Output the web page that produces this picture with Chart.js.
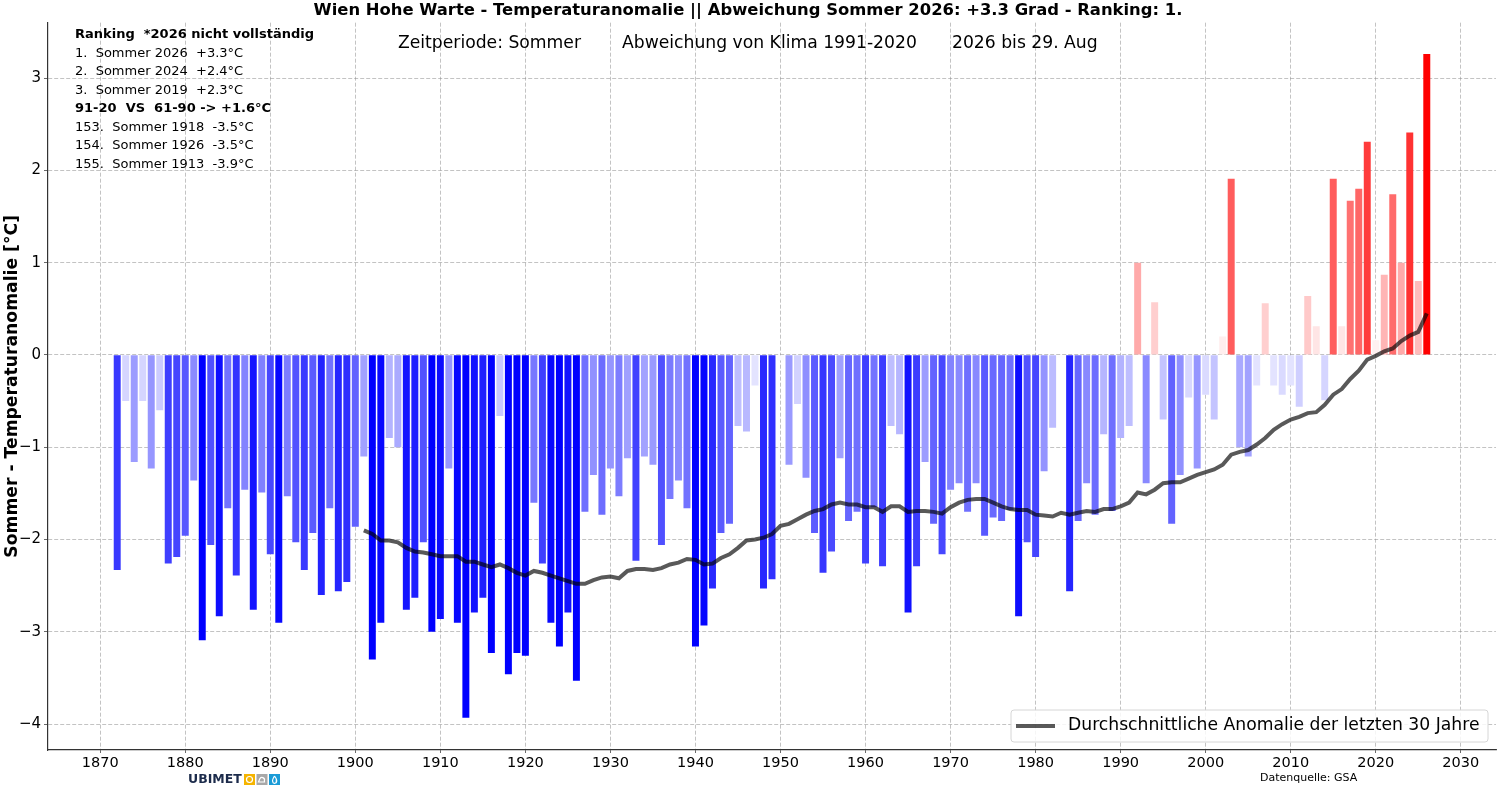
<!DOCTYPE html>
<html>
<head>
<meta charset="utf-8">
<title>Wien Hohe Warte - Temperaturanomalie Sommer</title>
<script src="https://cdn.jsdelivr.net/npm/chart.js@4.4.1/dist/chart.umd.min.js"></script>
<style>
  html, body { margin: 0; padding: 0; background: #fff; }
  #wrap { width: 1500px; height: 790px; position: relative; }
</style>
</head>
<body>
<div id="wrap"><canvas id="anomChart"></canvas></div>
<script>
// -----------------------------------------------------------------------------
// Data
// -----------------------------------------------------------------------------
const years = [
  1872, 1873, 1874, 1875, 1876, 1877, 1878, 1879, 1880, 1881, 1882, 1883, 1884, 1885, 1886, 1887, 1888, 1889, 1890, 1891,
  1892, 1893, 1894, 1895, 1896, 1897, 1898, 1899, 1900, 1901, 1902, 1903, 1904, 1905, 1906, 1907, 1908, 1909, 1910, 1911,
  1912, 1913, 1914, 1915, 1916, 1917, 1918, 1919, 1920, 1921, 1922, 1923, 1924, 1925, 1926, 1927, 1928, 1929, 1930, 1931,
  1932, 1933, 1934, 1935, 1936, 1937, 1938, 1939, 1940, 1941, 1942, 1943, 1944, 1945, 1946, 1947, 1948, 1949, 1950, 1951,
  1952, 1953, 1954, 1955, 1956, 1957, 1958, 1959, 1960, 1961, 1962, 1963, 1964, 1965, 1966, 1967, 1968, 1969, 1970, 1971,
  1972, 1973, 1974, 1975, 1976, 1977, 1978, 1979, 1980, 1981, 1982, 1983, 1984, 1985, 1986, 1987, 1988, 1989, 1990, 1991,
  1992, 1993, 1994, 1995, 1996, 1997, 1998, 1999, 2000, 2001, 2002, 2003, 2004, 2005, 2006, 2007, 2008, 2009, 2010, 2011,
  2012, 2013, 2014, 2015, 2016, 2017, 2018, 2019, 2020, 2021, 2022, 2023, 2024, 2025, 2026
];

// summer anomaly vs. 1991-2020, one value per year above
const anomalies = [
  -2.33, -0.50, -1.16, -0.50, -1.23, -0.60, -2.26, -2.19, -1.96, -1.36, -3.09, -2.06, -2.83, -1.66, -2.39, -1.46, -2.76, -1.49, -2.16, -2.90,
  -1.53, -2.03, -2.33, -1.93, -2.60, -1.66, -2.56, -2.46, -1.86, -1.10, -3.30, -2.90, -0.90, -1.00, -2.76, -2.63, -2.03, -3.00, -2.86, -1.23,
  -2.90, -3.93, -2.79, -2.63, -3.23, -0.66, -3.46, -3.23, -3.26, -1.60, -2.26, -2.90, -3.16, -2.79, -3.53, -1.70, -1.30, -1.73, -1.23, -1.53,
  -1.12, -2.23, -1.10, -1.19, -2.06, -1.56, -1.36, -1.66, -3.16, -2.93, -2.53, -1.93, -1.83, -0.77, -0.83, -0.33, -2.53, -2.43, -0.06, -1.19,
  -0.53, -1.33, -1.93, -2.36, -2.13, -1.12, -1.80, -1.70, -2.26, -1.65, -2.29, -0.77, -0.86, -2.79, -2.29, -1.16, -1.83, -2.16, -1.46, -1.39,
  -1.70, -1.39, -1.96, -1.76, -1.80, -1.68, -2.83, -2.03, -2.19, -1.26, -0.79, -0.03, -2.56, -1.80, -1.39, -1.73, -0.86, -1.69, -0.90, -0.77,
  1.00, -1.39, 0.57, -0.70, -1.83, -1.30, -0.46, -1.23, -0.43, -0.70, 0.20, 1.91, -1.00, -1.10, -0.33, 0.56, -0.33, -0.43, -0.33, -0.56,
  0.64, 0.31, -0.49, 1.91, 0.31, 1.67, 1.80, 2.31, 0.16, 0.87, 1.74, 1.00, 2.41, 0.80, 3.26
];

// 30-year mean anomaly, 1901 - 2026
const meanYears = years.filter(y => y >= 1901);
const meanAnomalies = [
  -1.90, -1.94, -2.01, -2.01, -2.03, -2.09, -2.13, -2.14, -2.16, -2.18, -2.18, -2.18, -2.24, -2.24, -2.27, -2.30, -2.27, -2.31, -2.36, -2.39,
  -2.34, -2.36, -2.39, -2.42, -2.45, -2.48, -2.48, -2.44, -2.41, -2.40, -2.42, -2.34, -2.32, -2.32, -2.33, -2.31, -2.27, -2.25, -2.21, -2.22,
  -2.27, -2.26, -2.20, -2.16, -2.09, -2.01, -2.00, -1.98, -1.94, -1.85, -1.83, -1.78, -1.73, -1.69, -1.67, -1.62, -1.60, -1.62, -1.62, -1.65,
  -1.65, -1.70, -1.64, -1.64, -1.70, -1.69, -1.69, -1.70, -1.72, -1.65, -1.60, -1.57, -1.56, -1.56, -1.60, -1.64, -1.67, -1.68, -1.68, -1.73,
  -1.74, -1.75, -1.71, -1.73, -1.71, -1.69, -1.70, -1.67, -1.67, -1.64, -1.60, -1.49, -1.51, -1.46, -1.39, -1.38, -1.38, -1.34, -1.30, -1.27,
  -1.24, -1.19, -1.08, -1.05, -1.03, -0.97, -0.90, -0.81, -0.75, -0.70, -0.67, -0.63, -0.62, -0.54, -0.43, -0.37, -0.26, -0.17, -0.05, -0.01,
  0.04, 0.07, 0.15, 0.21, 0.25, 0.45
];

// tick labels
const xTickYears = [1870, 1880, 1890, 1900, 1910, 1920, 1930, 1940, 1950, 1960, 1970, 1980, 1990, 2000, 2010, 2020, 2030];
const yTickValues = [-4, -3, -2, -1, 0, 1, 2, 3];

// text blocks
const titleText = 'Wien Hohe Warte - Temperaturanomalie || Abweichung Sommer 2026: +3.3 Grad - Ranking: 1.';
const subtitleParts = ['Zeitperiode: Sommer', 'Abweichung von Klima 1991-2020', '2026 bis 29. Aug'];
const rankingLines = [
  'Ranking  *2026 nicht vollständig',
  '1.  Sommer 2026  +3.3°C',
  '2.  Sommer 2024  +2.4°C',
  '3.  Sommer 2019  +2.3°C',
  '91-20  VS  61-90 -> +1.6°C',
  '153.  Sommer 1918  -3.5°C',
  '154.  Sommer 1926  -3.5°C',
  '155.  Sommer 1913  -3.9°C'
];
const rankingBold = [0, 4];
const meanLabel = 'Durchschnittliche Anomalie der letzten 30 Jahre';
const sourceText = 'Datenquelle: GSA';

// =============================================================================
// Styling helpers
// =============================================================================
const FONT = "'DejaVu Sans', 'Liberation Sans', sans-serif";
const gridColor = 'rgba(140,140,140,0.65)';
const meanColor = 'rgba(0,0,0,0.65)';

// bar colour: blue below zero, red above, stronger the larger the anomaly
function barColor(v) {
  const a = Math.min(Math.abs(v) / 3, 1);
  const c = Math.round(255 * (1 - a));
  return v < 0 ? `rgb(${c},${c},255)` : `rgb(255,${c},${c})`;
}

function minusSign(v) {
  return v < 0 ? '\u2212' + Math.abs(v) : String(v);
}

// =============================================================================
// Overlay texts, legend, logo
// =============================================================================
const overlayPlugin = {
  id: 'overlays',
  afterDraw(chart) {
    const ctx = chart.ctx;
    ctx.save();
    ctx.fillStyle = '#000';
    ctx.textBaseline = 'middle';
    ctx.textAlign = 'left';

    // subtitle inside the plot
    ctx.font = `17.2px ${FONT}`;
    const subX = [398, 622, 952];
    subtitleParts.forEach((t, i) => ctx.fillText(t, subX[i], 44));

    // ranking block
    rankingLines.forEach((t, i) => {
      ctx.font = (rankingBold.includes(i) ? 'bold ' : '') + `13px ${FONT}`;
      ctx.fillText(t, 75, 35 + i * 18.5);
    });

    // legend box (bottom right)
    const lx = 1011, ly = 710, lw = 477, lh = 32;
    ctx.beginPath();
    ctx.roundRect(lx, ly, lw, lh, 3);
    ctx.fillStyle = 'rgba(255,255,255,0.85)';
    ctx.fill();
    ctx.strokeStyle = '#d6d6d6';
    ctx.lineWidth = 1;
    ctx.stroke();
    const ds = chart.data.datasets[0];
    ctx.beginPath();
    ctx.moveTo(lx + 5, ly + 16);
    ctx.lineTo(lx + 44, ly + 16);
    ctx.strokeStyle = ds.borderColor;
    ctx.lineWidth = ds.borderWidth;
    ctx.stroke();
    ctx.fillStyle = '#000';
    ctx.font = `17.2px ${FONT}`;
    ctx.fillText(ds.label, lx + 57, ly + 16);

    // data source
    ctx.font = `11px ${FONT}`;
    ctx.fillText(sourceText, 1260, 778);

    // UBIMET logo
    ctx.font = `bold 12.5px ${FONT}`;
    ctx.fillStyle = '#1c2b4b';
    ctx.fillText('UBIMET', 188, 780);
    const boxes = ['#f5b400', '#a8a8a8', '#1a9bd7'];
    boxes.forEach((c, i) => {
      ctx.fillStyle = c;
      ctx.fillRect(244 + i * 12.5, 774, 11, 11);
    });
    ctx.strokeStyle = '#fff';
    ctx.lineWidth = 1.2;
    ctx.beginPath();
    ctx.arc(249.5, 779.5, 3, 0, Math.PI * 2);
    ctx.stroke();
    ctx.beginPath();
    ctx.moveTo(258.5, 782);
    ctx.lineTo(264.5, 782);
    ctx.arc(262, 780, 2.5, 0.3, Math.PI + 0.6, true);
    ctx.closePath();
    ctx.stroke();
    ctx.beginPath();
    ctx.moveTo(274.5, 776);
    ctx.quadraticCurveTo(277.5, 780, 276.5, 782);
    ctx.arc(274.5, 781.5, 1.8, 0, Math.PI);
    ctx.quadraticCurveTo(272, 780, 274.5, 776);
    ctx.stroke();
    ctx.restore();
  }
};

// =============================================================================
// Chart
// =============================================================================
Chart.defaults.font.family = FONT;
Chart.defaults.color = '#000';

new Chart(document.getElementById('anomChart'), {
  data: {
    datasets: [
      {
        type: 'line',
        label: meanLabel,
        data: meanYears.map((y, i) => ({ x: y, y: meanAnomalies[i] })),
        borderColor: meanColor,
        borderWidth: 4,
        pointRadius: 0,
        tension: 0,
        order: 0
      },
      {
        type: 'bar',
        label: 'Sommer',
        data: years.map((y, i) => ({ x: y, y: anomalies[i] })),
        backgroundColor: ctx => barColor(ctx.raw ? ctx.raw.y : 0),
        borderWidth: 0,
        barPercentage: 0.82,
        categoryPercentage: 1,
        order: 1
      }
    ]
  },
  options: {
    responsive: true,
    maintainAspectRatio: false,
    animation: false,
    layout: { padding: { left: 0, right: 4, top: 0, bottom: 0 } },
    plugins: {
      legend: { display: false },
      tooltip: { enabled: false },
      title: {
        display: true,
        text: titleText,
        color: '#000',
        font: { size: 16.4, weight: 'bold' },
        padding: { top: 1, bottom: 2 }
      }
    },
    scales: {
      x: {
        type: 'linear',
        position: 'bottom',
        min: 1863.86,
        max: 2034.14,
        offset: false,
        z: 1,
        afterBuildTicks: s => { s.ticks = xTickYears.map(v => ({ value: v })); },
        afterFit: s => { s.height = 40; },
        ticks: {
          callback: v => String(v),
          font: { size: 14.5 },
          color: '#000',
          padding: 2,
          maxRotation: 0,
          autoSkip: false
        },
        grid: { offset: false, color: gridColor, tickColor: '#444', tickLength: 3, lineWidth: 0.8 },
        border: { display: true, color: '#333', width: 1.2, dash: [4, 2] }
      },
      y: {
        min: -4.28,
        max: 3.6,
        z: 1,
        afterBuildTicks: s => { s.ticks = yTickValues.map(v => ({ value: v })); },
        afterFit: s => { s.width = 48; },
        ticks: {
          callback: v => minusSign(v),
          font: { size: 15 },
          color: '#000',
          padding: 3
        },
        grid: { color: gridColor, tickColor: '#444', tickLength: 4, lineWidth: 0.8 },
        border: { display: true, color: '#333', width: 1.2, dash: [4, 2] },
        title: {
          display: true,
          text: 'Sommer - Temperaturanomalie [°C]',
          color: '#000',
          font: { size: 17.2, weight: 'bold' },
          padding: { top: 2, bottom: 0 }
        }
      }
    }
  },
  plugins: [overlayPlugin]
});
</script>
</body>
</html>
